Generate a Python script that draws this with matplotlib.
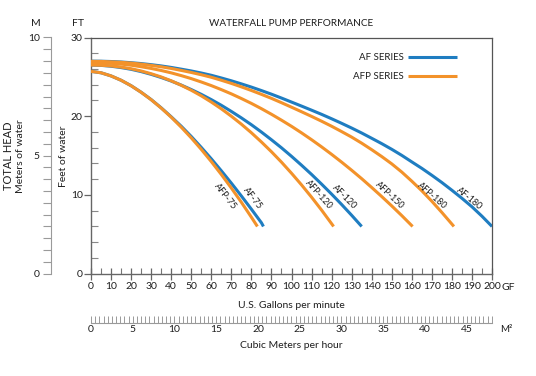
import numpy as np
import matplotlib
matplotlib.use("Agg")
import matplotlib.pyplot as plt

plt.rcParams['font.family'] = ['Lato', 'DejaVu Sans']

# pump curves: flow (US gpm) vs head (ft)
gpm_af75 = [0, 5, 10, 15, 20, 25, 30, 35, 40, 45, 50, 55, 60, 65, 70, 75, 80, 85, 86]
head_af75 = [25.7, 25.52, 25.12, 24.57, 23.88, 23.05, 22.12, 21.07, 19.93, 18.73,
             17.43, 16.04, 14.59, 13.07, 11.5, 9.87, 8.19, 6.47, 6.0]
gpm_afp75 = [0, 5, 10, 15, 20, 25, 30, 35, 40, 45, 50, 55, 60, 65, 70, 75, 80, 83]
head_afp75 = [25.7, 25.52, 25.12, 24.57, 23.87, 23.04, 22.1, 21.04, 19.88, 18.61,
              17.25, 15.79, 14.24, 12.6, 10.88, 9.07, 7.17, 6.0]

gpm_af120 = [0, 5, 10, 15, 20, 25, 30, 35, 40, 45, 50, 55, 60, 65, 70, 75, 80, 85, 90,
             95, 100, 105, 110, 115, 120, 125, 130, 135]
head_af120 = [26.5, 26.46, 26.35, 26.18, 25.96, 25.67, 25.32, 24.92, 24.47, 23.96,
              23.39, 22.78, 22.11, 21.39, 20.61, 19.79, 18.92, 17.99, 17.01, 15.99,
              14.91, 13.78, 12.61, 11.38, 10.11, 8.79, 7.42, 6.0]
gpm_afp120 = [0, 5, 10, 15, 20, 25, 30, 35, 40, 45, 50, 55, 60, 65, 70, 75, 80, 85, 90,
              95, 100, 105, 110, 115, 120, 121]
head_afp120 = [26.5, 26.47, 26.39, 26.24, 26.03, 25.75, 25.4, 24.99, 24.5, 23.93,
               23.3, 22.59, 21.8, 20.94, 20.0, 18.99, 17.9, 16.73, 15.49, 14.17,
               12.76, 11.28, 9.72, 8.08, 6.35, 6.0]

gpm_afp150 = [0, 5, 10, 15, 20, 25, 30, 35, 40, 45, 50, 55, 60, 65, 70, 75, 80, 85, 90,
              95, 100, 105, 110, 115, 120, 125, 130, 135, 140, 145, 150, 155, 160.4]
head_afp150 = [26.8, 26.78, 26.72, 26.62, 26.48, 26.29, 26.07, 25.81, 25.51, 25.16,
               24.78, 24.35, 23.89, 23.38, 22.84, 22.25, 21.63, 20.96, 20.25, 19.5,
               18.72, 17.89, 17.02, 16.11, 15.16, 14.17, 13.14, 12.07, 10.95, 9.8,
               8.61, 7.38, 6.0]

gpm_afp180 = [0, 5, 10, 15, 20, 25, 30, 35, 40, 45, 50, 55, 60, 65, 70, 75, 80, 85, 90,
              95, 100, 105, 110, 115, 120, 125, 130, 135, 140, 145, 150, 155, 160, 165,
              170, 175, 180, 181]
head_afp180 = [26.97, 26.96, 26.91, 26.85, 26.75, 26.62, 26.46, 26.28, 26.07, 25.82,
               25.56, 25.27, 24.95, 24.57, 24.17, 23.73, 23.27, 22.78, 22.27, 21.72,
               21.15, 20.57, 19.98, 19.37, 18.73, 18.05, 17.35, 16.58, 15.75, 14.88,
               13.95, 12.91, 11.75, 10.53, 9.2, 7.78, 6.3, 6.0]
gpm_af180 = [0, 5, 10, 15, 20, 25, 30, 35, 40, 45, 50, 55, 60, 65, 70, 75, 80, 85, 90,
             95, 100, 105, 110, 115, 120, 125, 130, 135, 140, 145, 150, 155, 160, 165,
             170, 175, 180, 185, 190, 195, 200]
head_af180 = [27.0, 26.99, 26.95, 26.89, 26.8, 26.69, 26.55, 26.39, 26.2, 25.98,
              25.75, 25.49, 25.2, 24.86, 24.5, 24.11, 23.7, 23.26, 22.8, 22.31,
              21.8, 21.29, 20.77, 20.24, 19.68, 19.1, 18.5, 17.87, 17.2, 16.52,
              15.8, 15.03, 14.2, 13.38, 12.5, 11.58, 10.6, 9.58, 8.5, 7.3, 6.0]

# curve labels: (text, gpm, ft, angle)
curve_labels = [
    ("AFP-75", 66.8, 9.8, -52),
    ("AF-75", 80.5, 9.6, -52),
    ("AFP-120", 113.4, 10.1, -48),
    ("AF-120", 126.2, 9.8, -45),
    ("AFP-150", 149.1, 9.9, -43),
    ("AFP-180", 169.9, 9.9, -41),
    ("AF-180", 188.5, 9.6, -39),
]

BLUE = '#1f7dc1'
ORANGE = '#f3922a'
TXT = '#1e1e1e'
W, H = 536, 376

fig = plt.figure(figsize=(W / 100, H / 100), dpi=100)

def px(x, y):
    return x / W, 1 - y / H

L, R, T, B = 91, 492, 37.5, 273.7
ax = fig.add_axes([L / W, 1 - B / H, (R - L) / W, (B - T) / H])

af = [(gpm_af75, head_af75), (gpm_af120, head_af120), (gpm_af180, head_af180)]
afp = [(gpm_afp75, head_afp75), (gpm_afp120, head_afp120),
       (gpm_afp150, head_afp150), (gpm_afp180, head_afp180)]
h_af = None
h_afp = None
for g, h in af:
    h_af, = ax.plot(g, h, color=BLUE, lw=2.2, solid_capstyle='butt',
                    solid_joinstyle='round', zorder=2)
for g, h in afp:
    h_afp, = ax.plot(g, h, color=ORANGE, lw=2.2, solid_capstyle='butt',
                     solid_joinstyle='round', zorder=3)

for txt, gx, gy, ang in curve_labels:
    ax.text(gx, gy, txt, rotation=ang, ha='center', va='center',
            fontsize=6.5, color=TXT, rotation_mode='anchor')

ax.set_xlim(0, 200)
ax.set_ylim(0, 30)
ax.set_xticks(range(0, 201, 10))
ax.set_xticks(range(5, 200, 10), minor=True)
ax.set_yticks([0, 10, 20, 30])
ax.set_yticks(np.arange(2, 30, 2), minor=True)
ax.tick_params(axis='x', which='major', direction='inout', length=8, width=0.9,
               color='#666666', labelsize=7.5, labelcolor=TXT, pad=2)
ax.tick_params(axis='x', which='minor', direction='in', length=4, width=0.8, color='#777777')
ax.tick_params(axis='y', which='major', direction='out', length=5, width=0.9,
               color='#666666', labelsize=7.5, labelcolor=TXT, pad=1)
ax.tick_params(axis='y', which='minor', direction='in', length=5, width=0.8, color='#888888')
for s in ['left', 'bottom']:
    ax.spines[s].set_color('#666666')
    ax.spines[s].set_linewidth(1.0)
for s in ['top', 'right']:
    ax.spines[s].set_color('#555555')
    ax.spines[s].set_linewidth(0.9)

leg = ax.legend([h_af, h_afp], ['AF SERIES', 'AFP SERIES'], loc='upper right',
                bbox_to_anchor=(0.935, 0.97), markerfirst=False, frameon=False,
                handlelength=5.1, handletextpad=0.4, labelspacing=1.0, fontsize=7)
for t in leg.get_texts():
    t.set_color(TXT)

# metres axis on the left
axm = fig.add_axes([51 / W, 1 - B / H, 0.0001, (B - T) / H])
axm.set_ylim(0, 10)
axm.set_yticks([0, 5, 10])
axm.set_yticks(np.arange(0, 10.01, 0.5), minor=True)
axm.tick_params(axis='y', which='both', direction='out', length=6, width=0.8,
                color='#9a9a9a', labelsize=7.5, labelcolor=TXT, pad=2)
axm.set_xticks([])
for s in ['top', 'right', 'bottom']:
    axm.spines[s].set_visible(False)
axm.spines['left'].set_color('#9a9a9a')
axm.spines['left'].set_linewidth(0.8)
axm.patch.set_visible(False)

# cubic metres per hour axis at the bottom
axc = fig.add_axes([L / W, 1 - 322.7 / H, (R - L) / W, 0.0001])
axc.set_xlim(0, 48.03)
axc.set_xticks(range(0, 46, 5))
axc.set_xticks(np.arange(0, 48.01, 0.5), minor=True)
axc.tick_params(axis='x', which='both', direction='in', length=5, width=0.7,
                color='#9a9a9a', labelsize=7.5, labelcolor=TXT, pad=2)
axc.set_yticks([])
for s in ['top', 'right', 'left']:
    axc.spines[s].set_visible(False)
axc.spines['bottom'].set_color('#9a9a9a')
axc.spines['bottom'].set_linewidth(0.8)
axc.patch.set_visible(False)

# texts
fig.text(*px(291, 24), 'WATERFALL PUMP PERFORMANCE', ha='center', va='center', fontsize=7.2, color=TXT)
fig.text(*px(78, 24), 'FT', ha='center', va='center', fontsize=7.5, color=TXT)
fig.text(*px(35.5, 24), 'M', ha='center', va='center', fontsize=7.5, color=TXT)
fig.text(*px(508, 287), 'GF', ha='center', va='center', fontsize=7.5, color=TXT)
fig.text(*px(506, 330), 'M\u00b2', ha='center', va='center', fontsize=7, color=TXT)
fig.text(*px(291, 305), 'U.S. Gallons per minute', ha='center', va='center', fontsize=7.5, color=TXT)
fig.text(*px(291, 346), 'Cubic Meters per hour', ha='center', va='center', fontsize=7.5, color=TXT)
fig.text(*px(9, 156), 'TOTAL HEAD', rotation=90, ha='center', va='center', fontsize=8, color=TXT)
fig.text(*px(21, 156), 'Meters of water', rotation=90, ha='center', va='center', fontsize=7.5, color=TXT)
fig.text(*px(64, 156), 'Feet of water', rotation=90, ha='center', va='center', fontsize=7.5, color=TXT)

fig.savefig('out.png', dpi=100)
